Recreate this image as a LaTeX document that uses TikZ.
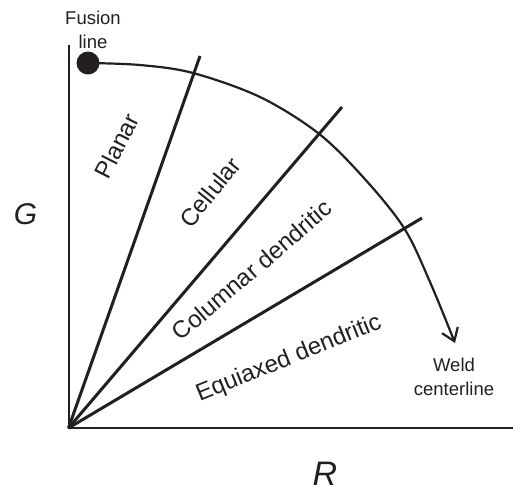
\documentclass[tikz,border=0pt]{standalone}
\usepackage{fontspec}
\setmainfont{Liberation Sans}
\usetikzlibrary{arrows.meta}
\definecolor{ink}{RGB}{35,31,32}
\tikzset{
  ray/.style={line width=3pt, ink},
  axis/.style={line width=2pt, ink},
  curve/.style={line width=2.2pt, ink, -{Straight Barb[length=12pt,width=17pt,line width=2.2pt]}},
  region/.style={text=ink, inner sep=0pt, font=\fontsize{24}{28}\selectfont},
  small/.style={text=ink, inner sep=0pt, align=center, font=\fontsize{18.5}{24}\selectfont},
  bigG/.style={text=ink, inner sep=0pt, font=\fontsize{30}{34}\selectfont\itshape},
  bigR/.style={text=ink, inner sep=0pt, font=\fontsize{34}{38}\selectfont\itshape},
}
\begin{document}
\begin{tikzpicture}[x=1pt,y=-1pt]
\useasboundingbox (0,0) rectangle (513,491);
% axes
\coordinate (O) at (68.5,428);
\coordinate (Gtop) at (68.5,45);
\coordinate (Rend) at (513,428);
\draw[axis, line cap=butt] (Gtop) -- (O) -- (Rend);
% rays
\coordinate (r1) at (200,56);
\coordinate (r2) at (342,107);
\coordinate (r3) at (422,218);
\draw[ray, line cap=butt] (O) -- (r1);
\draw[ray, line cap=butt] (O) -- (r2);
\draw[ray, line cap=butt] (O) -- (r3);
% fusion line dot and cooling curve
\node (dot) [circle, fill=ink, inner sep=0pt, minimum size=23pt] at (88,63) {};
\coordinate (tip) at (455,343);
\draw[curve] plot[smooth, tension=0.55] coordinates {(88,63) (140,65) (193,73) (260,97) (318,133) (363,177) (404,228) (430,282) (455,343)};
% labels
\node[small] (fus) at (93,29.5) {Fusion\\line};
\node[small] (weld) at (454,376.5) {Weld\\centerline};
\node[region, rotate=63] (planar) at (117,146) {Planar};
\node[region, rotate=51] (cell) at (210,192) {Cellular};
\node[region, rotate=40.5] (col) at (252,270) {Columnar dendritic};
\node[region, rotate=22] (equi) at (289,359) {Equiaxed dendritic};
\node[bigG] (G) at (25.5,214) {G};
\node[bigR] (R) at (325,474) {R};
\end{tikzpicture}
\end{document}
